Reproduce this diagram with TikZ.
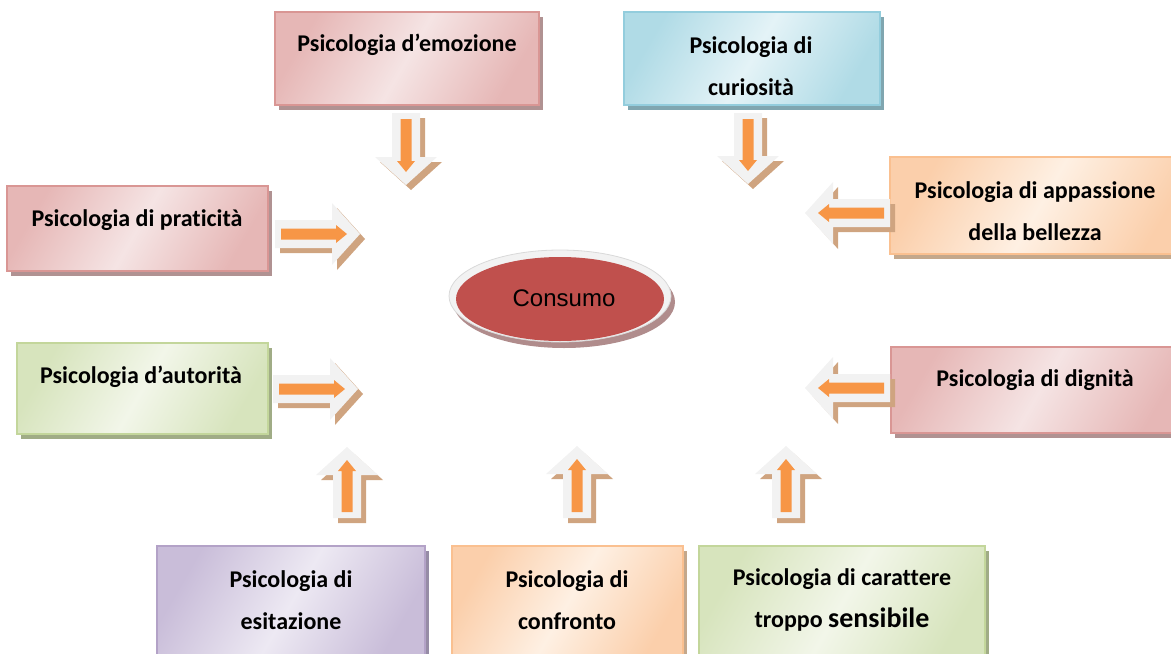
\documentclass[tikz,border=0pt]{standalone}
\usepackage{fontspec}
\setmainfont{Carlito}[Ligatures=NoCommon]
\newfontfamily\arialfont{Liberation Sans}
\usetikzlibrary{shadows}
\definecolor{redborder}{HTML}{D99694}
\definecolor{reddark}{HTML}{E6B7B6}
\definecolor{redlight}{HTML}{F5E4E4}
\definecolor{redshade}{RGB}{176,146,146}
\definecolor{blueborder}{HTML}{93CDDD}
\definecolor{bluedark}{HTML}{B0DBE6}
\definecolor{bluelight}{HTML}{E4F3F7}
\definecolor{blueshade}{RGB}{128,166,176}
\definecolor{orangeborder}{HTML}{FAC090}
\definecolor{orangedark}{HTML}{FBCFAB}
\definecolor{orangelight}{HTML}{FEF0E3}
\definecolor{orangeshade}{RGB}{196,168,140}
\definecolor{greenborder}{HTML}{C3D69B}
\definecolor{greendark}{HTML}{D7E4BD}
\definecolor{greenlight}{HTML}{F2F6E9}
\definecolor{greenshade}{RGB}{160,172,134}
\definecolor{purpleborder}{HTML}{B3A2C7}
\definecolor{purpledark}{HTML}{C9BDD9}
\definecolor{purplelight}{HTML}{EDE9F3}
\definecolor{purpleshade}{RGB}{150,140,166}
\definecolor{arrfill}{HTML}{F2F2F2}
\definecolor{arrshade}{RGB}{207,164,128}
\definecolor{arrinner}{HTML}{F79646}
\definecolor{consred}{HTML}{C0504D}
\definecolor{consshade}{RGB}{176,140,140}
\newcommand{\blockarrow}[4]{%
\fill[arrshade, shift={(#1+5,#2+5)}, rotate=#3] (0,-14) -- (#4-28,-14) -- (#4-28,-31) -- (#4,0) -- (#4-28,31) -- (#4-28,14) -- (0,14) -- cycle;
\fill[arrfill, shift={(#1,#2)}, rotate=#3] (0,-14) -- (#4-28,-14) -- (#4-28,-31) -- (#4,0) -- (#4-28,31) -- (#4-28,14) -- (0,14) -- cycle;
\fill[arrinner, shift={(#1,#2)}, rotate=#3] (6,-5.5) -- (#4-24,-5.5) -- (#4-24,-9) -- (#4-13,0) -- (#4-24,9) -- (#4-24,5.5) -- (6,5.5) -- cycle;
}

\begin{document}
\begin{tikzpicture}[x=0.5pt, y=-0.5pt,
  pbox/.style={draw=#1border, line width=0.8pt, top color=#1dark, bottom color=#1dark, middle color=#1light, shading angle=60,
    drop shadow={shadow xshift=2pt, shadow yshift=-2.5pt, fill=#1shade, opacity=1}, inner sep=0pt},
  ptext/.style={align=center, font=\fontsize{12}{21}\selectfont\bfseries, inner sep=0pt}]
\useasboundingbox (0,0) rectangle (1171,653);

\node[pbox=red, minimum width=132pt, minimum height=46.5pt] (emo) at (407,58.5) {};
\node[ptext] (emo-t) at (407,45) {Psicologia d’emozione};
\node[pbox=blue, minimum width=128pt, minimum height=46.5pt] (cur) at (752,58.5) {};
\node[ptext] (cur-t) at (751,66) {Psicologia di\\curiosità};
\node[pbox=red, minimum width=130.5pt, minimum height=42.5pt] (pra) at (137.5,228.5) {};
\node[ptext] (pra-t) at (137,220) {Psicologia di praticità};
\node[pbox=orange, minimum width=150pt, minimum height=48.5pt] (app) at (1040,205.5) {};
\node[ptext] (app-t) at (1035,211) {Psicologia di appassione\\della bellezza};
\node[pbox=green, minimum width=125.5pt, minimum height=45.5pt] (aut) at (142.5,388.5) {};
\node[ptext] (aut-t) at (141,377) {Psicologia d’autorità};
\node[pbox=red, minimum width=149pt, minimum height=43pt] (dig) at (1040,390) {};
\node[ptext] (dig-t) at (1035,380) {Psicologia di dignità};
\node[pbox=purple, minimum width=134pt, minimum height=57pt] (esi) at (291,603) {};
\node[ptext] (esi-t) at (291,600) {Psicologia di\\esitazione};
\node[pbox=orange, minimum width=115.5pt, minimum height=57pt] (con) at (567.5,603) {};
\node[ptext] (con-t) at (567,600) {Psicologia di\\confronto};
\node[pbox=green, minimum width=143pt, minimum height=57pt] (car) at (842,603) {};
\node[ptext] (car-t) at (842,600) {Psicologia di carattere\\troppo {\fontsize{14}{21}\selectfont sensibile}};

\fill[consshade] (564,302) ellipse [x radius=111, y radius=46];
\filldraw[arrfill, draw=white!85!black, line width=0.4pt] (560,296) ellipse [x radius=111, y radius=46];
\fill[consred] (560,299) ellipse [x radius=104, y radius=42];
\node[font=\arialfont\fontsize{12}{14}\selectfont] (cons) at (564,298) {Consumo};

\blockarrow{406}{113}{-90}{72}
\blockarrow{748}{113}{-90}{71}
\blockarrow{275}{234}{0}{85}
\blockarrow{890}{213}{180}{85}
\blockarrow{273}{389}{0}{85}
\blockarrow{890}{388}{180}{85}
\blockarrow{347}{518}{90}{71}
\blockarrow{577}{518}{90}{72}
\blockarrow{786}{518}{90}{72}
\end{tikzpicture}
\end{document}
